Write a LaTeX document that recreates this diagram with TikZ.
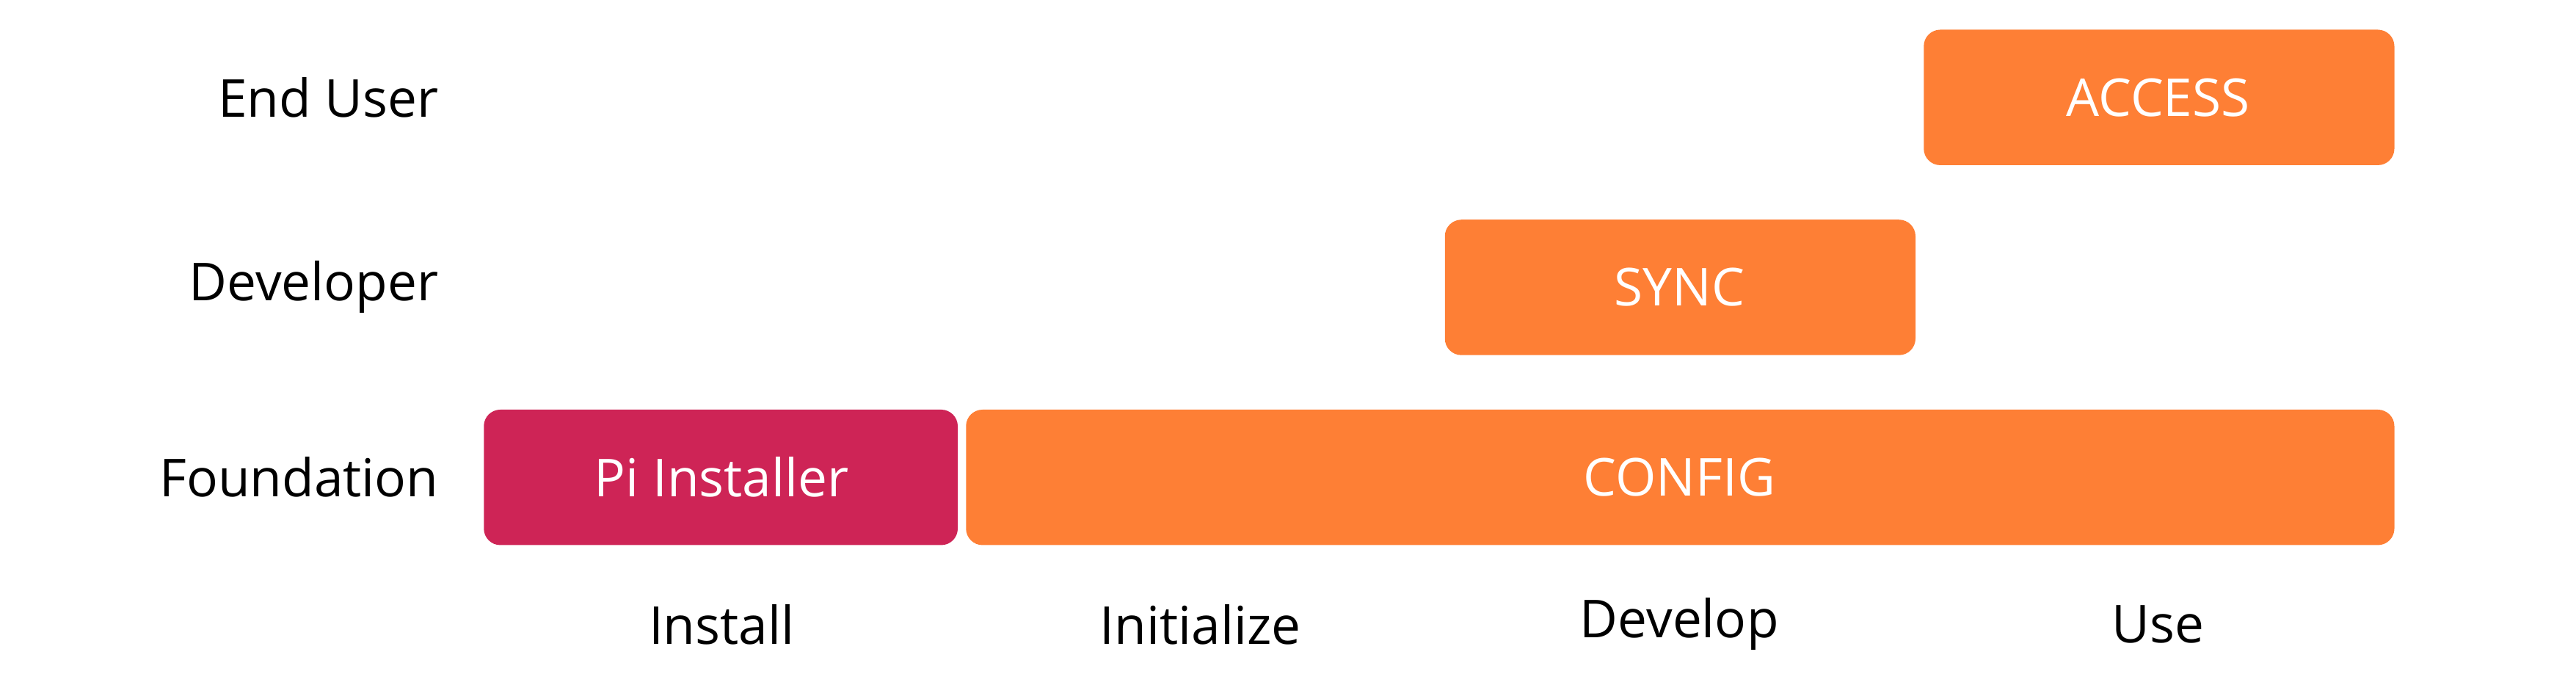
\documentclass[tikz,border=0pt]{standalone}
\usepackage{fontspec}
\setmainfont{Open Sans}
\definecolor{orng}{HTML}{FE7F35}
\definecolor{crim}{HTML}{CE2456}
\begin{document}
\begin{tikzpicture}[x=0.01cm,y=-0.01cm,
  bar/.style={rounded corners=0.1cm,draw=none},
  btxt/.style={text=white,font=\fontsize{9pt}{10pt}\selectfont},
  lbl/.style={font=\fontsize{9pt}{10pt}\selectfont,anchor=east},
  col/.style={font=\fontsize{9pt}{10pt}\selectfont}]
\useasboundingbox (0,0) rectangle (1560,421.3);
\fill[bar,orng] (1165,18) rectangle (1450,100);
\node[btxt] (access) at (1307,59) {ACCESS};
\fill[bar,orng] (875,133) rectangle (1160,215);
\node[btxt] (sync) at (1017,174) {SYNC};
\fill[bar,crim] (293,248) rectangle (580,330);
\node[btxt] (pi) at (437,289) {Pi Installer};
\fill[bar,orng] (585,248) rectangle (1450,330);
\node[btxt] (config) at (1017,289) {CONFIG};
\node[lbl] (eu) at (278,59) {End User};
\node[lbl] (dev) at (278,174) {Developer};
\node[lbl] (fd) at (278,289) {Foundation};
\node[col] (c1) at (437,378) {Install};
\node[col] (c2) at (727,378) {Initialize};
\node[col] (c3) at (1017,378) {Develop};
\node[col] (c4) at (1307,378) {Use};
\end{tikzpicture}
\end{document}
